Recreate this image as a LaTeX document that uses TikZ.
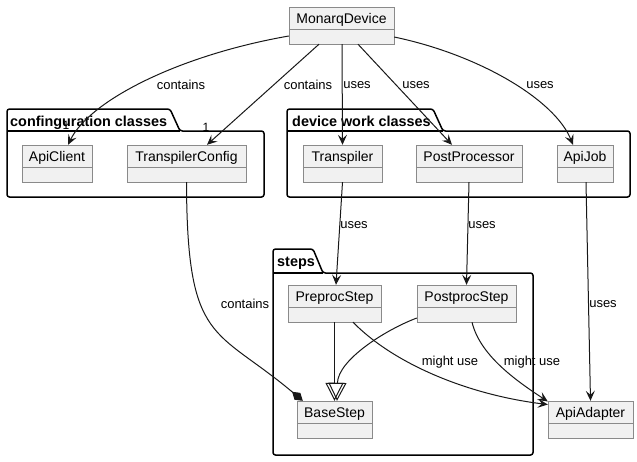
\documentclass[tikz,border=0pt]{standalone}
\usepackage{fontspec}
\setmainfont{Liberation Sans}
\usetikzlibrary{arrows.meta, positioning}
\definecolor{clsfill}{HTML}{F1F1F1}
\definecolor{clsline}{HTML}{8A8A8A}
\definecolor{edgecol}{HTML}{181818}

\begin{document}
\begin{tikzpicture}[x=1pt, y=-1pt,
  cls/.style={draw=clsline, fill=clsfill, minimum height=37pt, inner xsep=2pt, inner ysep=0pt,
    text height=16pt, text depth=21pt, font=\fontsize{14}{16}\selectfont},
  pkg/.style={draw=black, line width=1.5pt, rounded corners=2.5pt},
  pkgtitle/.style={anchor=base west, inner sep=0pt, font=\fontsize{14.4}{16}\selectfont\bfseries},
  lbl/.style={inner sep=1pt, font=\fontsize{13}{15}\selectfont},
  uses/.style={draw=edgecol, line width=1pt, -{Stealth[length=10pt, width=9pt, inset=4pt]}},
  inherit/.style={draw=edgecol, line width=1pt, -{Triangle[open, length=18pt, width=18pt]}},
  compose/.style={draw=edgecol, line width=1pt, -{Diamond[length=14pt, width=9pt]}}]
\useasboundingbox (0,0) rectangle (637,461);

% Packages
\draw[pkg] (7,197) -- (7,109) -- (170,109) -- (180,131) -- (264,131) -- (264,197) -- cycle;
\draw[pkg] (7,131) -- (180,131);
\node[pkgtitle] (cfgtitle) at (10,126) {confinguration classes};

\draw[pkg] (287,197) -- (287,109) -- (433,109) -- (443,131) -- (630,131) -- (630,197) -- cycle;
\draw[pkg] (287,131) -- (443,131);
\node[pkgtitle] (worktitle) at (292,126) {device work classes};

\draw[pkg] (273,455) -- (273,249) -- (313,249) -- (323,273) -- (533,273) -- (533,455) -- cycle;
\draw[pkg] (273,273) -- (323,273);
\node[pkgtitle] (stepstitle) at (277,266) {steps};

% Classes
\node[cls, minimum width=105pt] (monarq) at (341.5,25.5) {MonarqDevice};

\node[cls, minimum width=70pt] (apiclient) at (57,163.5) {ApiClient};
\node[cls, minimum width=119pt] (tconfig) at (186.5,163.5) {TranspilerConfig};

\node[cls, minimum width=79pt] (transpiler) at (342.5,163.5) {Transpiler};
\node[cls, minimum width=106pt] (postproc) at (469,163.5) {PostProcessor};
\node[cls, minimum width=56pt] (apijob) at (585,163.5) {ApiJob};

\node[cls, minimum width=93pt] (preproc) at (334.5,303.5) {PreprocStep};
\node[cls, minimum width=99pt] (postprocstep) at (466.5,303.5) {PostprocStep};
\node[cls, minimum width=75pt] (basestep) at (334.5,419.5) {BaseStep};

\node[cls, minimum width=85pt] (apiadapter) at (590.5,419.5) {ApiAdapter};

\foreach \n in {monarq, apiclient, tconfig, transpiler, postproc, apijob, preproc, postprocstep, basestep, apiadapter}
  \draw[clsline] ([yshift=-22pt]\n.north west) -- ([yshift=-22pt]\n.north east);

% MonarqDevice links
\draw[uses] ([yshift=-10.5pt]monarq.west) .. controls (180,55) and (90,100) .. ([xshift=11pt]apiclient.north);
\node[lbl] (lcont1) at (181,85) {contains};
\node[lbl, font=\fontsize{12}{14}\selectfont] (one1) at (66,125) {1};

\draw[uses] ([xshift=-22.5pt]monarq.south) -- ([xshift=20.5pt]tconfig.north);
\node[lbl] (lcont2) at (308,85) {contains};
\node[lbl, font=\fontsize{12}{14}\selectfont] (one2) at (206,127) {1};

\draw[uses] ([xshift=0.5pt]monarq.south) -- (transpiler.north);
\node[lbl] (luses1) at (357,85) {uses};

\draw[uses] ([xshift=16.5pt]monarq.south) -- ([xshift=-17pt]postproc.north);
\node[lbl] (luses2) at (416,85) {uses};

\draw[uses] ([yshift=-11.5pt]monarq.east) .. controls (480,55) and (555,100) .. ([xshift=-12pt]apijob.north);
\node[lbl] (luses3) at (540,85) {uses};

% work classes to steps
\draw[uses] (transpiler.south) -- ([xshift=1.5pt]preproc.north);
\node[lbl] (luses4) at (354,225) {uses};

\draw[uses] (postproc.south) -- (postprocstep.north);
\node[lbl] (luses5) at (482,225) {uses};

\draw[uses] ([xshift=1pt]apijob.south) -- (apiadapter.north);
\node[lbl] (luses6) at (603,304) {uses};

% TranspilerConfig contains BaseStep
\draw[compose] (tconfig.south) .. controls (187,345) and (215,327) .. ([xshift=6pt]basestep.north west);
\node[lbl] (lcont3) at (245,304) {contains};

% steps
\draw[inherit] (preproc.south) -- (basestep.north);
\draw[inherit] ([yshift=-14.5pt]postprocstep.west) .. controls (385,330) and (338,360) .. ([xshift=2.5pt]basestep.north);

\draw[uses] ([xshift=18.5pt]preproc.south) .. controls (395,365) and (470,395) .. ([yshift=15pt]apiadapter.west);
\node[lbl] (lmight1) at (450,362) {might use};

\draw[uses] ([xshift=5.5pt]postprocstep.south) .. controls (480,355) and (515,380) .. ([yshift=18pt]apiadapter.west);
\node[lbl] (lmight2) at (532,362) {might use};
\end{tikzpicture}
\end{document}
